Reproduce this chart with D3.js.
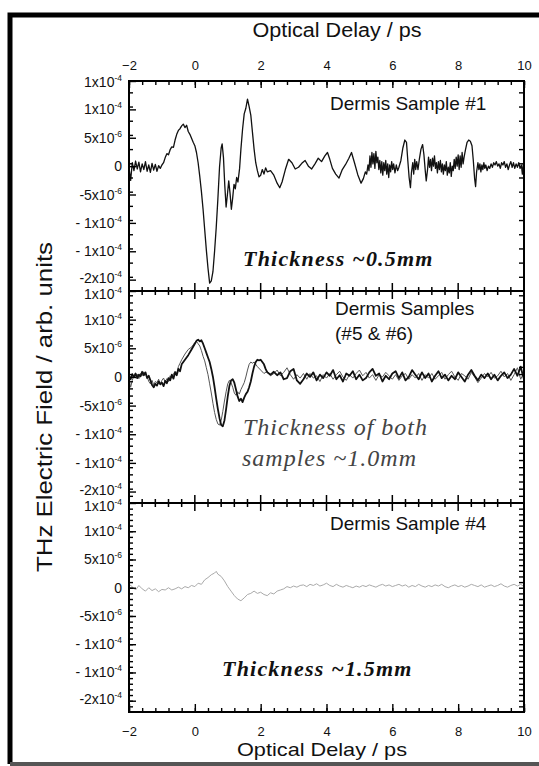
<!DOCTYPE html>
<html>
<head>
<meta charset="utf-8">
<script src="https://cdn.jsdelivr.net/npm/d3@7"></script>
<style>
  body { margin: 0; background: #fff; }
  svg { display: block; }
  .lbl { font-family: "Liberation Sans", Arial, sans-serif; fill: #111; }
</style>
</head>
<body>
<div id="chart-area"></div>
<script>
// values in units of 1e-6 (arb. units), time in ps
var xTicks = [-2, 0, 2, 4, 6, 8, 10];
var yTicks = [15, 10, 5, 0, -5, -10, -15, -20];
var yTickBase = ["1x10", "1x10", "5x10", "0", "-5x10", "- 1x10", "- 1x10", "-2x10"];
var yTickExp  = ["-4", "-4", "-6", "", "-6", "-4", "-4", "-4"];
var panelNames = [["Dermis Sample #1"], ["Dermis Samples", "(#5 & #6)"], ["Dermis Sample #4"]];
var panelNotes = [["Thickness ~0.5mm"], ["Thickness of both", "samples ~1.0mm"], ["Thickness ~1.5mm"]];

var sample1 = [[-2.0,-0.3],[-1.95,-2.5],[-1.9,0.6],[-1.85,-0.8],[-1.8,0.9],[-1.75,-0.5],[-1.7,0.7],[-1.65,-1.0],[-1.6,0.4],[-1.55,-0.6],[-1.5,0.8],[-1.45,-0.9],[-1.4,0.2],[-1.35,-1.1],[-1.3,0.5],[-1.25,-0.7],[-1.2,0.3],[-1.15,-0.9],[-1.1,0.1],[-1.05,-0.4],[-1.0,0.2],[-0.95,0.6],[-0.9,1.5],[-0.85,2.2],[-0.8,2.0],[-0.75,2.9],[-0.7,3.4],[-0.65,3.3],[-0.6,4.6],[-0.55,5.6],[-0.5,6.3],[-0.45,6.6],[-0.4,7.1],[-0.35,7.4],[-0.3,6.8],[-0.25,7.2],[-0.2,6.1],[-0.15,5.6],[-0.1,4.9],[-0.05,4.2],[0.0,3.6],[0.05,2.4],[0.1,0.6],[0.15,-1.8],[0.2,-4.5],[0.25,-7.6],[0.3,-11.2],[0.35,-14.8],[0.4,-18.0],[0.45,-20.6],[0.5,-20.2],[0.55,-18.6],[0.6,-15.0],[0.65,-10.8],[0.7,-5.8],[0.75,-0.2],[0.8,3.2],[0.83,3.9],[0.87,1.5],[0.91,-3.4],[0.95,-7.2],[0.99,-5.0],[1.03,-2.6],[1.07,-4.8],[1.11,-7.6],[1.15,-5.6],[1.19,-3.2],[1.23,-4.0],[1.27,-2.0],[1.31,-2.8],[1.36,-0.4],[1.4,3.0],[1.45,6.5],[1.5,9.2],[1.55,10.2],[1.6,11.8],[1.65,10.5],[1.7,9.0],[1.75,6.0],[1.8,3.0],[1.85,0.6],[1.9,-0.8],[1.95,-1.9],[2.0,-1.6],[2.05,-0.6],[2.1,-1.4],[2.15,-0.3],[2.2,-1.0],[2.3,-0.8],[2.4,-1.6],[2.5,-3.0],[2.58,-3.8],[2.65,-2.8],[2.75,-0.6],[2.85,1.2],[2.95,0.6],[3.05,-0.5],[3.15,-0.2],[3.25,0.5],[3.35,1.0],[3.45,0.0],[3.55,-0.5],[3.65,0.4],[3.75,1.4],[3.85,0.8],[3.95,1.8],[4.03,2.4],[4.1,1.2],[4.18,-0.4],[4.28,-1.4],[4.38,-2.1],[4.48,-0.6],[4.58,0.3],[4.68,1.4],[4.76,2.4],[4.85,0.6],[4.95,-1.5],[5.05,-3.0],[5.12,-2.2],[5.18,-1.0],[5.22,-1.4],[5.26,0.2],[5.29,-0.8],[5.32,1.8],[5.35,-0.2],[5.38,2.4],[5.41,0.4],[5.44,2.2],[5.47,-0.4],[5.5,2.6],[5.53,0.6],[5.56,1.6],[5.59,-0.6],[5.62,1.0],[5.65,-1.2],[5.68,0.8],[5.71,-1.6],[5.74,0.6],[5.77,-0.8],[5.8,1.0],[5.83,-1.4],[5.86,0.4],[5.89,-2.0],[5.92,0.2],[5.95,-1.0],[5.98,0.8],[6.01,-0.6],[6.04,0.4],[6.08,-1.2],[6.12,0.2],[6.16,-0.8],[6.2,-0.2],[6.26,1.0],[6.32,3.2],[6.38,4.6],[6.43,4.2],[6.47,1.0],[6.51,-2.0],[6.55,-3.8],[6.58,-1.2],[6.62,0.6],[6.65,-1.4],[6.68,1.2],[6.71,-0.6],[6.74,0.8],[6.78,-0.6],[6.82,1.2],[6.87,3.0],[6.92,3.8],[6.96,2.0],[7.0,-0.8],[7.03,-2.6],[7.07,-0.6],[7.1,1.6],[7.13,-0.2],[7.16,1.2],[7.19,-0.8],[7.22,1.4],[7.25,0.0],[7.28,1.8],[7.31,-0.4],[7.34,0.6],[7.37,-1.2],[7.4,0.8],[7.43,-0.6],[7.46,1.0],[7.49,-1.0],[7.52,0.4],[7.55,-1.4],[7.58,0.2],[7.61,-0.8],[7.64,0.8],[7.67,-1.6],[7.7,-0.2],[7.73,-1.2],[7.76,0.6],[7.79,-1.8],[7.82,0.0],[7.85,-0.8],[7.88,1.2],[7.91,-0.4],[7.94,1.6],[7.97,0.0],[8.0,2.0],[8.03,-0.6],[8.06,1.8],[8.09,-0.2],[8.12,2.4],[8.15,0.4],[8.18,1.6],[8.22,2.8],[8.27,4.2],[8.32,4.6],[8.37,4.4],[8.42,3.6],[8.46,1.0],[8.5,-2.2],[8.53,-3.6],[8.56,-1.0],[8.6,0.6],[8.63,-0.6],[8.66,0.4],[8.69,-1.0],[8.72,0.2],[8.75,-0.6],[8.78,0.6],[8.81,-0.4],[8.84,0.2],[8.88,-0.8],[8.92,0.0],[8.96,-0.4],[9.0,0.4],[9.04,-0.2],[9.08,0.6],[9.12,0.2],[9.16,0.8],[9.2,0.0],[9.24,0.4],[9.28,-0.4],[9.32,0.6],[9.36,0.2],[9.4,0.8],[9.44,-0.2],[9.48,0.4],[9.52,-0.6],[9.56,0.2],[9.6,0.8],[9.64,-0.2],[9.68,0.6],[9.72,-0.4],[9.76,0.4],[9.8,-0.2],[9.84,0.6],[9.88,-0.4],[9.92,0.2],[9.95,-1.4],[9.98,0.4],[10.0,-0.2]];

var sample5 = [[-2.0,0.2],[-1.95,-0.4],[-1.9,0.5],[-1.85,0.0],[-1.8,0.6],[-1.75,-0.2],[-1.7,0.4],[-1.65,0.1],[-1.6,0.9],[-1.55,0.3],[-1.5,0.8],[-1.45,-0.2],[-1.4,0.2],[-1.35,-0.6],[-1.3,-1.4],[-1.25,-1.8],[-1.2,-1.2],[-1.15,-1.5],[-1.1,-0.8],[-1.05,-1.3],[-1.0,-1.0],[-0.95,-1.6],[-0.9,-0.7],[-0.85,-1.1],[-0.8,-0.2],[-0.75,-0.6],[-0.7,0.4],[-0.65,-0.3],[-0.6,0.8],[-0.55,0.3],[-0.5,1.4],[-0.45,1.0],[-0.4,2.2],[-0.3,3.0],[-0.2,3.8],[-0.1,4.8],[0.0,5.8],[0.05,6.3],[0.1,6.5],[0.15,6.2],[0.2,6.4],[0.25,5.8],[0.3,5.0],[0.35,4.2],[0.4,3.4],[0.45,2.6],[0.5,1.4],[0.55,0.0],[0.6,-1.8],[0.65,-3.8],[0.7,-5.6],[0.75,-7.2],[0.8,-8.4],[0.85,-8.6],[0.9,-7.6],[0.95,-5.6],[1.0,-3.4],[1.05,-1.6],[1.1,-0.6],[1.15,-0.4],[1.2,-1.0],[1.25,-2.2],[1.3,-3.4],[1.35,-4.2],[1.4,-3.8],[1.45,-4.4],[1.5,-3.6],[1.55,-3.0],[1.6,-2.6],[1.65,-1.8],[1.7,-0.8],[1.75,0.6],[1.8,1.8],[1.85,2.6],[1.9,3.0],[1.95,2.9],[2.0,3.0],[2.05,2.6],[2.1,2.2],[2.15,1.4],[2.2,0.8],[2.3,0.4],[2.4,0.9],[2.5,0.3],[2.6,0.8],[2.7,-0.4],[2.8,-0.2],[2.9,1.0],[3.0,1.4],[3.1,-0.6],[3.2,-1.2],[3.3,-0.4],[3.4,0.6],[3.5,0.0],[3.6,0.8],[3.7,-0.6],[3.8,0.4],[3.9,-0.2],[4.0,0.8],[4.1,0.2],[4.2,1.2],[4.3,-0.4],[4.4,0.3],[4.5,-0.8],[4.6,0.6],[4.7,0.2],[4.8,1.0],[4.9,-0.4],[5.0,0.4],[5.1,-0.6],[5.2,-0.2],[5.3,0.8],[5.4,1.4],[5.5,0.2],[5.6,0.6],[5.7,-0.8],[5.8,0.2],[5.9,-0.4],[6.0,0.6],[6.1,1.0],[6.2,-0.2],[6.3,0.8],[6.4,-0.6],[6.5,0.0],[6.6,1.2],[6.7,0.4],[6.8,-0.4],[6.9,0.8],[7.0,-0.2],[7.1,0.6],[7.2,-0.8],[7.3,0.2],[7.4,1.0],[7.5,-0.2],[7.6,0.4],[7.7,-0.6],[7.8,0.2],[7.9,-0.4],[8.0,0.8],[8.1,0.0],[8.2,-0.8],[8.3,0.4],[8.4,1.2],[8.5,0.2],[8.6,-0.6],[8.7,0.4],[8.8,-0.2],[8.9,0.6],[9.0,-0.4],[9.1,0.4],[9.2,-0.6],[9.3,0.2],[9.4,0.8],[9.5,-0.2],[9.6,0.4],[9.7,1.4],[9.8,0.2],[9.9,1.8],[9.95,0.6],[10.0,-0.4]];

var sample6 = [[-2.0,-0.4],[-1.95,-1.8],[-1.9,-0.6],[-1.85,0.3],[-1.8,-0.2],[-1.75,0.5],[-1.7,-0.3],[-1.65,0.6],[-1.6,0.2],[-1.55,0.9],[-1.5,0.4],[-1.45,0.1],[-1.4,-0.8],[-1.35,-1.2],[-1.3,-0.6],[-1.25,-1.4],[-1.2,-0.8],[-1.15,-1.0],[-1.1,-0.4],[-1.05,-1.2],[-1.0,-0.6],[-0.95,-0.2],[-0.9,-0.9],[-0.85,-0.3],[-0.8,-0.8],[-0.75,0.2],[-0.7,-0.2],[-0.65,0.5],[-0.6,1.0],[-0.55,0.6],[-0.5,1.8],[-0.45,2.4],[-0.4,3.0],[-0.3,4.0],[-0.2,4.8],[-0.1,5.2],[-0.05,5.6],[0.0,6.0],[0.05,6.2],[0.1,5.8],[0.15,5.4],[0.2,4.6],[0.25,3.6],[0.3,2.8],[0.35,1.6],[0.4,0.4],[0.45,-1.2],[0.5,-2.8],[0.55,-4.6],[0.6,-6.2],[0.65,-7.4],[0.7,-8.2],[0.75,-8.4],[0.8,-7.6],[0.85,-6.0],[0.9,-4.2],[0.95,-2.6],[1.0,-1.2],[1.05,-0.6],[1.1,-1.0],[1.15,-1.8],[1.2,-2.8],[1.25,-3.2],[1.3,-2.6],[1.35,-3.0],[1.4,-2.2],[1.45,-1.6],[1.5,-1.0],[1.55,0.0],[1.6,1.2],[1.65,2.2],[1.7,2.6],[1.75,2.4],[1.8,2.6],[1.85,2.2],[1.9,1.8],[2.0,1.2],[2.1,0.6],[2.2,1.0],[2.3,0.2],[2.4,0.6],[2.5,1.2],[2.6,0.2],[2.7,0.8],[2.8,1.6],[2.9,0.4],[3.0,-0.4],[3.1,0.4],[3.2,-0.2],[3.3,0.6],[3.4,-0.4],[3.5,0.6],[3.6,-0.2],[3.7,0.2],[3.8,-0.8],[3.9,0.4],[4.0,-0.2],[4.1,0.6],[4.2,-0.4],[4.3,0.4],[4.4,1.0],[4.5,0.0],[4.6,-0.6],[4.7,0.4],[4.8,-0.2],[4.9,0.6],[5.0,1.2],[5.1,0.2],[5.2,0.8],[5.3,-0.2],[5.4,0.4],[5.5,-0.6],[5.6,0.4],[5.7,0.0],[5.8,0.8],[5.9,0.2],[6.0,-0.4],[6.1,0.4],[6.2,-0.6],[6.3,0.2],[6.4,0.6],[6.5,-0.4],[6.6,0.4],[6.7,-0.2],[6.8,0.6],[6.9,-0.6],[7.0,0.4],[7.1,-0.2],[7.2,0.6],[7.3,-0.4],[7.4,0.2],[7.5,0.8],[7.6,-0.4],[7.7,0.4],[7.8,1.0],[7.9,0.0],[8.0,-0.6],[8.1,0.6],[8.2,0.2],[8.3,-0.4],[8.4,0.8],[8.5,0.0],[8.6,-1.0],[8.7,-0.2],[8.8,0.6],[8.9,0.0],[9.0,0.8],[9.1,-0.2],[9.2,0.2],[9.3,1.0],[9.4,0.0],[9.5,0.6],[9.6,-0.6],[9.7,0.4],[9.8,1.6],[9.9,-0.4],[10.0,0.8]];

var sample4 = [[-2.0,0.6],[-1.9,0.2],[-1.8,-0.4],[-1.7,0.4],[-1.6,-0.2],[-1.5,-0.6],[-1.4,0.0],[-1.3,-0.5],[-1.2,-0.2],[-1.1,-0.7],[-1.0,-0.3],[-0.9,-0.4],[-0.8,0.0],[-0.7,-0.4],[-0.6,-0.2],[-0.5,0.1],[-0.4,-0.2],[-0.3,0.2],[-0.2,0.0],[-0.1,0.4],[0.0,0.2],[0.1,0.8],[0.2,0.6],[0.3,1.4],[0.4,1.8],[0.5,2.3],[0.6,2.6],[0.65,2.9],[0.7,2.4],[0.8,2.0],[0.9,1.2],[1.0,0.2],[1.1,-0.6],[1.2,-1.4],[1.3,-2.0],[1.4,-2.3],[1.5,-1.8],[1.6,-1.2],[1.7,-1.0],[1.8,-0.6],[1.9,-1.0],[2.0,-0.8],[2.1,-1.2],[2.2,-1.4],[2.3,-0.9],[2.4,-1.1],[2.5,-0.6],[2.6,-0.4],[2.7,-0.2],[2.8,0.2],[2.9,0.0],[3.0,0.3],[3.1,0.1],[3.2,0.4],[3.3,0.5],[3.4,0.2],[3.5,0.6],[3.6,0.4],[3.7,0.7],[3.8,0.3],[3.9,0.5],[4.0,0.8],[4.1,0.4],[4.2,0.2],[4.3,0.6],[4.4,0.3],[4.5,0.1],[4.6,0.4],[4.7,0.2],[4.8,0.0],[4.9,0.3],[5.0,0.1],[5.1,0.4],[5.2,0.2],[5.3,0.5],[5.4,0.3],[5.5,0.1],[5.6,0.4],[5.7,0.6],[5.8,0.3],[5.9,0.5],[6.0,0.2],[6.1,0.4],[6.2,0.6],[6.3,0.3],[6.4,0.5],[6.5,0.1],[6.6,0.4],[6.7,0.2],[6.8,0.6],[6.9,0.3],[7.0,0.1],[7.1,0.4],[7.2,0.2],[7.3,0.5],[7.4,0.3],[7.5,0.6],[7.6,0.2],[7.7,0.0],[7.8,0.3],[7.9,0.5],[8.0,0.2],[8.1,0.4],[8.2,0.1],[8.3,0.3],[8.4,0.6],[8.5,0.4],[8.6,0.2],[8.7,0.5],[8.8,0.1],[8.9,0.3],[9.0,0.5],[9.1,0.2],[9.2,0.4],[9.3,0.7],[9.4,0.3],[9.5,0.1],[9.6,0.4],[9.7,0.6],[9.8,0.3],[9.9,0.6],[10.0,0.2]];

var W = 539, H = 766;
var left = 129, right = 524;
var panelTops = [81, 291, 503], panelBottoms = [291, 503, 712];

var svg = d3.select("#chart-area").append("svg")
    .attr("width", W).attr("height", H);

// outer frame
svg.append("path")
    .attr("d", "M10,764 L10,15 L545,15")
    .attr("fill", "none").attr("stroke", "#000").attr("stroke-width", 5);
svg.append("line")
    .attr("x1", 10).attr("x2", 545).attr("y1", 764).attr("y2", 764)
    .attr("stroke", "#555").attr("stroke-width", 4);

var x = d3.scaleLinear().domain([-2, 10]).range([left, right]);
var xMinor = d3.range(-2, 10.001, 0.4);

var ys = panelTops.map(function(t, i){
    return d3.scaleLinear().domain([-22, 15]).range([panelBottoms[i], t]);
});

var minorSteps = [2.5, 1.25, 1];

// curves
var series = [
    { data: sample1, panel: 0, color: "#111", width: 1.3 },
    { data: sample6, panel: 1, color: "#555", width: 1 },
    { data: sample5, panel: 1, color: "#111", width: 1.8 },
    { data: sample4, panel: 2, color: "#aaa", width: 1 }
];
series.forEach(function(s){
    var y = ys[s.panel];
    var line = d3.line()
        .x(function(d){ return x(d[0]); })
        .y(function(d){ return y(d[1]); });
    svg.append("path")
        .datum(s.data)
        .attr("d", line)
        .attr("fill", "none")
        .attr("stroke", s.color)
        .attr("stroke-width", s.width)
        .attr("stroke-linejoin", "round");
});

// y axes (left + right) per panel
ys.forEach(function(y, i){
    var minor = d3.range(-22, 15.001, minorSteps[i]).filter(function(v){ return v > -22 && v < 15; });
    svg.append("g")
        .attr("transform", "translate(" + left + ",0)")
        .call(d3.axisLeft(y).tickValues(minor).tickSize(-4).tickFormat(""))
        .call(function(g){ g.select(".domain").remove(); });
    svg.append("g")
        .attr("transform", "translate(" + left + ",0)")
        .call(d3.axisLeft(y).tickValues(yTicks).tickSize(-7).tickFormat(""))
        .call(function(g){ g.select(".domain").remove(); });
    svg.append("g")
        .attr("transform", "translate(" + right + ",0)")
        .call(d3.axisRight(y).tickValues(minor).tickSize(-5).tickFormat(""))
        .call(function(g){ g.select(".domain").remove(); });

    // labels at the panel joins are squeezed apart a little
    var shift = function(d){
        if (d === 15) return i > 0 ? 8 : 6;
        if (d === -20) return 3;
        return 5;
    };
    var lab = svg.append("g").selectAll("text")
        .data(yTicks)
        .enter().append("text")
        .attr("class", "lbl")
        .attr("x", left - 7)
        .attr("y", function(d){ return y(d) + shift(d); })
        .attr("text-anchor", "end")
        .attr("font-size", 14);
    lab.append("tspan").text(function(d, j){ return yTickBase[j]; });
    lab.append("tspan")
        .attr("dy", -6)
        .attr("font-size", 8.5)
        .text(function(d, j){ return yTickExp[j]; });
});

// top axis
svg.append("g")
    .attr("transform", "translate(0," + panelTops[0] + ")")
    .call(d3.axisTop(x).tickValues(xMinor).tickSize(-4).tickFormat(""))
    .call(function(g){ g.select(".domain").remove(); });
svg.append("g")
    .attr("transform", "translate(0," + panelTops[0] + ")")
    .call(d3.axisTop(x).tickValues(xTicks).tickSize(-7).tickPadding(11).tickFormat(d3.format("d")))
    .call(function(g){ g.select(".domain").remove(); })
    .selectAll("text").attr("class", "lbl").attr("font-size", 13).attr("fill", "#111");

// bottom axis
svg.append("g")
    .attr("transform", "translate(0," + panelBottoms[2] + ")")
    .call(d3.axisBottom(x).tickValues(xMinor).tickSize(-4).tickFormat(""))
    .call(function(g){ g.select(".domain").remove(); });
svg.append("g")
    .attr("transform", "translate(0," + panelBottoms[2] + ")")
    .call(d3.axisBottom(x).tickValues(xTicks).tickSize(-8).tickPadding(15).tickFormat(d3.format("d")))
    .call(function(g){ g.select(".domain").remove(); })
    .selectAll("text").attr("class", "lbl").attr("font-size", 13).attr("fill", "#111");

// ticks crossing the panel boundaries
[panelBottoms[0], panelBottoms[1]].forEach(function(yy){
    svg.append("g").selectAll("line")
        .data(xMinor)
        .enter().append("line")
        .attr("x1", function(d){ return x(d); })
        .attr("x2", function(d){ return x(d); })
        .attr("y1", function(d){ return yy - (xTicks.indexOf(Math.round(d * 10) / 10) >= 0 ? 8 : 4); })
        .attr("y2", function(d){ return yy + (xTicks.indexOf(Math.round(d * 10) / 10) >= 0 ? 8 : 4); })
        .attr("stroke", "#000").attr("stroke-width", 1.5);
});

svg.selectAll(".tick line").attr("stroke", "#000").attr("stroke-width", 1.4);

// frames
panelTops.forEach(function(t, i){
    svg.append("rect")
        .attr("x", left).attr("y", t)
        .attr("width", right - left).attr("height", panelBottoms[i] - t)
        .attr("fill", "none").attr("stroke", "#000").attr("stroke-width", 2);
});

// panel names
var nameY = [[110], [315, 340], [530]];
panelNames.forEach(function(lines, i){
    lines.forEach(function(s, j){
        svg.append("text").attr("class", "lbl")
            .attr("x", i === 1 ? 335 : 330).attr("y", nameY[i][j])
            .attr("font-size", 19)
            .text(s);
    });
});

// thickness notes
var noteX = [243, 243, 222], noteY = [[266], [435, 466], [676]];
panelNotes.forEach(function(lines, i){
    lines.forEach(function(s, j){
        svg.append("text")
            .attr("x", i === 1 ? 243 - j : noteX[i]).attr("y", noteY[i][j])
            .attr("font-family", "'Liberation Serif', 'Times New Roman', serif")
            .attr("font-style", "italic")
            .attr("font-weight", i === 1 ? "normal" : "bold")
            .attr("font-size", i === 1 ? 24 : 22)
            .attr("letter-spacing", i === 1 ? 1 : 1.2)
            .attr("fill", i === 1 ? "#444" : "#111")
            .text(s);
    });
});

// axis titles
svg.append("text").attr("class", "lbl")
    .attr("x", 337).attr("y", 37).attr("text-anchor", "middle")
    .attr("font-size", 20).attr("textLength", 169).attr("lengthAdjust", "spacingAndGlyphs")
    .text("Optical Delay / ps");
svg.append("text").attr("class", "lbl")
    .attr("x", 322).attr("y", 756).attr("text-anchor", "middle")
    .attr("font-size", 19).attr("textLength", 170).attr("lengthAdjust", "spacingAndGlyphs")
    .text("Optical Delay / ps");
svg.append("text").attr("class", "lbl")
    .attr("transform", "translate(52,407) rotate(-90)")
    .attr("text-anchor", "middle")
    .attr("font-size", 22).attr("textLength", 330).attr("lengthAdjust", "spacingAndGlyphs")
    .text("THz Electric Field / arb. units");
</script>
</body>
</html>
